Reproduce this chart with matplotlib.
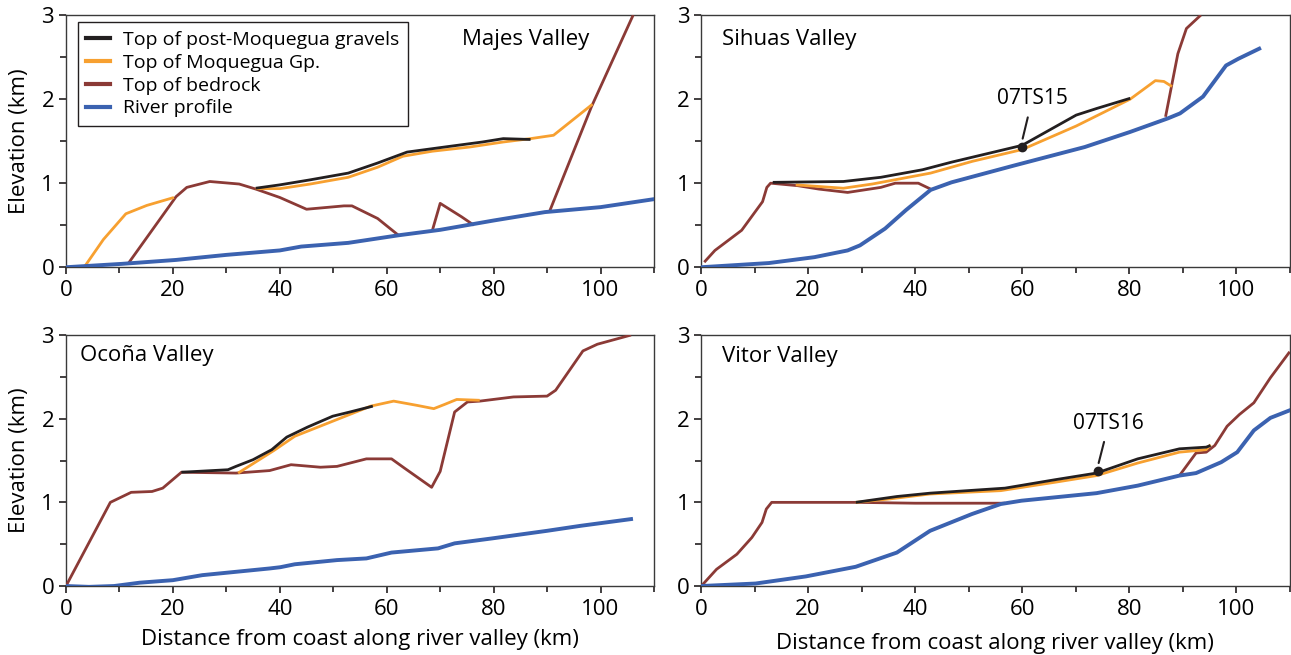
import numpy as np
import matplotlib
matplotlib.use("Agg")
import matplotlib.pyplot as plt
from matplotlib.ticker import MultipleLocator

plt.rcParams['font.family'] = ['Open Sans', 'DejaVu Sans']

BLACK = "#231f20"
ORANGE = "#f7a030"
BROWN = "#8b3a36"
BLUE = "#3b62b0"

# ---- Majes Valley ----
majes_river_x = [0, 10.4, 20.6, 30, 40, 44, 52.8, 62.2, 70, 80, 89.6, 100, 110]
majes_river_y = [0, 0.04, 0.087, 0.147, 0.2, 0.246, 0.29, 0.38, 0.445, 0.556, 0.656, 0.715, 0.81]
majes_moq1_x = [3.4, 7, 11.2, 15.1, 20.2]
majes_moq1_y = [0, 0.33, 0.636, 0.735, 0.83]
majes_moq2_x = [35.5, 40, 45.7, 52.8, 58.3, 63, 68.5, 75.5, 81.8, 86.9, 91.2, 98.5]
majes_moq2_y = [0.935, 0.935, 0.99, 1.07, 1.19, 1.32, 1.38, 1.43, 1.49, 1.53, 1.57, 1.94]
majes_grav_x = [35.5, 40, 45.7, 52.8, 58.3, 63.8, 70.8, 77.9, 81.8, 86.9]
majes_grav_y = [0.94, 0.98, 1.04, 1.12, 1.24, 1.37, 1.43, 1.49, 1.53, 1.52]
majes_bed1_x = [11.6, 20.6, 22.6, 26.9, 32.4, 35.5, 40, 45, 52, 53.5, 58.3, 62.2]
majes_bed1_y = [0.04, 0.84, 0.95, 1.02, 0.99, 0.93, 0.83, 0.69, 0.73, 0.73, 0.58, 0.38]
majes_bed2_x = [68.5, 70, 74, 76.3]
majes_bed2_y = [0.43, 0.76, 0.6, 0.5]
majes_bed3_x = [90.4, 98.3, 106.1]
majes_bed3_y = [0.655, 1.91, 3.0]

# ---- Sihuas Valley ----
sihuas_river_x = [0, 12.7, 21.2, 27.4, 29.7, 34.4, 38.3, 42.9, 46.8, 58.5, 71.7, 80.2, 87.2, 89.5, 93.8, 98.1, 100.4, 104.3]
sihuas_river_y = [0, 0.05, 0.12, 0.2, 0.26, 0.46, 0.68, 0.92, 1.01, 1.21, 1.43, 1.61, 1.77, 1.83, 2.03, 2.40, 2.48, 2.60]
sihuas_bed1_x = [0.6, 2.6, 7.6, 11.5, 12.3, 13, 18.1, 22, 27.4, 33.6, 36.3, 40.6, 42.9]
sihuas_bed1_y = [0.06, 0.2, 0.44, 0.78, 0.95, 1.0, 0.97, 0.93, 0.89, 0.95, 1.0, 1.0, 0.93]
sihuas_bed2_x = [86.8, 89.1, 90.7, 93.4]
sihuas_bed2_y = [1.79, 2.54, 2.84, 3.0]
sihuas_moq_x = [17.7, 26.6, 32, 42.9, 50.7, 60, 70.1, 80.2, 84.9, 86.5, 88]
sihuas_moq_y = [0.98, 0.94, 0.99, 1.12, 1.26, 1.40, 1.68, 2.0, 2.22, 2.21, 2.15]
sihuas_grav_x = [13.4, 26.6, 33.6, 41.4, 46.8, 60, 70.1, 74, 80.2]
sihuas_grav_y = [1.01, 1.02, 1.07, 1.16, 1.25, 1.45, 1.81, 1.89, 2.01]
sihuas_sample = (60, 1.43, "07TS15")

# ---- Ocoña Valley ----
ocona_river_x = [0, 4.3, 9, 13.8, 20, 25.5, 31.8, 38.1, 40.1, 42.8, 50.7, 56.2, 60.9, 69.6, 72.7, 79.8, 90, 96.3, 105.7]
ocona_river_y = [0, -0.01, 0.0, 0.04, 0.07, 0.13, 0.17, 0.21, 0.225, 0.26, 0.31, 0.33, 0.4, 0.45, 0.51, 0.57, 0.66, 0.72, 0.80]
ocona_bed_x = [0, 8.3, 12.2, 16.1, 18.1, 21.6, 31.8, 38.1, 42.1, 47.6, 50.7, 56.2, 60.9, 63.3, 68.4, 70, 72.7,
               75.1, 77.4, 83.7, 90, 91.6, 96.7, 99.4, 105.7]
ocona_bed_y = [0, 1.0, 1.12, 1.13, 1.17, 1.36, 1.35, 1.38, 1.45, 1.42, 1.43, 1.52, 1.52, 1.41, 1.18, 1.37, 2.08,
               2.2, 2.21, 2.26, 2.27, 2.34, 2.81, 2.89, 3.0]
ocona_moq_x = [32.2, 38.9, 42.8, 49.9, 57, 61.3, 65.6, 68.8, 70.8, 73.1, 77.4]
ocona_moq_y = [1.35, 1.62, 1.79, 1.97, 2.15, 2.21, 2.16, 2.12, 2.17, 2.23, 2.22]
ocona_grav_x = [21.6, 30.3, 31.8, 35, 38.5, 41.3, 45.2, 49.9, 53.1, 57.4]
ocona_grav_y = [1.36, 1.39, 1.43, 1.51, 1.63, 1.78, 1.9, 2.03, 2.08, 2.15]

# ---- Vitor Valley ----
vitor_river_x = [0, 10.2, 19.6, 28.9, 36.6, 42.8, 50.6, 56, 59.9, 73.9, 81.6, 89.4, 92.5, 97.2, 100.2, 103.3, 106.4, 110]
vitor_river_y = [0, 0.03, 0.115, 0.23, 0.40, 0.66, 0.86, 0.98, 1.02, 1.11, 1.2, 1.32, 1.35, 1.48, 1.6, 1.86, 2.01, 2.1]
vitor_bed1_x = [0.2, 2.9, 6.7, 9.5, 11.4, 12.2, 13.2, 25.8, 28.9, 40, 56.8]
vitor_bed1_y = [0.01, 0.2, 0.38, 0.58, 0.76, 0.92, 1.0, 1.0, 1.0, 0.99, 0.99]
vitor_bed2_x = [89.4, 92.5, 94.4, 96, 98.3, 100.6, 103.3, 106.4, 110]
vitor_bed2_y = [1.32, 1.59, 1.6, 1.68, 1.91, 2.05, 2.19, 2.49, 2.8]
vitor_moq_x = [28.9, 35.1, 42.8, 56, 66.1, 73.9, 81.6, 89.4, 94.4, 95.2]
vitor_moq_y = [1.0, 1.04, 1.1, 1.14, 1.24, 1.32, 1.47, 1.60, 1.63, 1.69]
vitor_grav_x = [28.9, 36.6, 42.8, 56.8, 66.1, 73.9, 81.6, 89.4, 94.4, 95.2]
vitor_grav_y = [1.0, 1.07, 1.11, 1.17, 1.27, 1.35, 1.52, 1.64, 1.66, 1.68]
vitor_sample = (74.2, 1.37, "07TS16")

LW = 2.0
LW_RIVER = 2.8

fig = plt.figure(figsize=(12.91, 6.55), dpi=100)
ax1 = fig.add_axes([0.0511, 0.592, 0.4555, 0.385])
ax2 = fig.add_axes([0.5430, 0.592, 0.4560, 0.385])
ax3 = fig.add_axes([0.0511, 0.1053, 0.4555, 0.3832])
ax4 = fig.add_axes([0.5430, 0.1053, 0.4560, 0.3832])


def style(ax):
    ax.set_xlim(0, 110)
    ax.set_ylim(0, 3)
    ax.xaxis.set_major_locator(MultipleLocator(20))
    ax.xaxis.set_minor_locator(MultipleLocator(10))
    ax.yaxis.set_major_locator(MultipleLocator(1))
    ax.yaxis.set_minor_locator(MultipleLocator(0.5))
    ax.tick_params(which="both", direction="out", labelsize=16, color="#231f20")
    ax.tick_params(which="major", length=5, width=1.2)
    ax.tick_params(which="minor", length=4, width=1.2)
    ax.tick_params(axis="x", pad=4)
    for s in ax.spines.values():
        s.set_color("#3a3a3a")
        s.set_linewidth(1.0)


def draw(ax, river, beds, moqs, gravs):
    for x, y in beds:
        ax.plot(x, y, color=BROWN, lw=LW, solid_capstyle="butt", solid_joinstyle="round", zorder=3)
    for x, y in moqs:
        ax.plot(x, y, color=ORANGE, lw=LW, solid_capstyle="butt", solid_joinstyle="round", zorder=4)
    for x, y in gravs:
        ax.plot(x, y, color=BLACK, lw=LW, solid_capstyle="butt", solid_joinstyle="round", zorder=5)
    ax.plot(river[0], river[1], color=BLUE, lw=LW_RIVER, solid_joinstyle="round", zorder=6)


def sample(ax, s, dx, dy):
    x, y, name = s
    ax.plot([x], [y], "o", color=BLACK, ms=6, zorder=7)
    ax.annotate(name, xy=(x + 0.1, y + 0.1), xytext=(x + dx, y + dy),
                ha="center", va="bottom", fontsize=15,
                arrowprops=dict(arrowstyle="-", color=BLACK, lw=1.5, shrinkA=4, shrinkB=0))


for ax in (ax1, ax2, ax3, ax4):
    style(ax)

draw(ax1, (majes_river_x, majes_river_y),
     [(majes_bed1_x, majes_bed1_y), (majes_bed2_x, majes_bed2_y), (majes_bed3_x, majes_bed3_y)],
     [(majes_moq1_x, majes_moq1_y), (majes_moq2_x, majes_moq2_y)],
     [(majes_grav_x, majes_grav_y)])
draw(ax2, (sihuas_river_x, sihuas_river_y),
     [(sihuas_bed1_x, sihuas_bed1_y), (sihuas_bed2_x, sihuas_bed2_y)],
     [(sihuas_moq_x, sihuas_moq_y)],
     [(sihuas_grav_x, sihuas_grav_y)])
draw(ax3, (ocona_river_x, ocona_river_y),
     [(ocona_bed_x, ocona_bed_y)],
     [(ocona_moq_x, ocona_moq_y)],
     [(ocona_grav_x, ocona_grav_y)])
draw(ax4, (vitor_river_x, vitor_river_y),
     [(vitor_bed1_x, vitor_bed1_y), (vitor_bed2_x, vitor_bed2_y)],
     [(vitor_moq_x, vitor_moq_y)],
     [(vitor_grav_x, vitor_grav_y)])

sample(ax2, sihuas_sample, 1.9, 0.45)
sample(ax4, vitor_sample, 2.0, 0.45)

# legend (only in the Majes panel)
handles = [plt.Line2D([], [], color=c, lw=3) for c in (BLACK, ORANGE, BROWN, BLUE)]
labels = ["Top of post-Moquegua gravels", "Top of Moquegua Gp.", "Top of bedrock", "River profile"]
leg = ax1.legend(handles, labels, loc="upper left", bbox_to_anchor=(0.02, 0.972), fontsize=14,
                 handlelength=1.2, handletextpad=0.7, labelspacing=0.25, borderpad=0.45,
                 fancybox=False, framealpha=1, edgecolor="#231f20", borderaxespad=0)
leg.get_frame().set_linewidth(1.0)

ax1.text(0.673, 0.905, "Majes Valley", transform=ax1.transAxes, fontsize=16, va="center", ha="left")
ax2.text(0.036, 0.905, "Sihuas Valley", transform=ax2.transAxes, fontsize=16, va="center", ha="left")
ax3.text(0.024, 0.92, "Ocoña Valley", transform=ax3.transAxes, fontsize=16, va="center", ha="left")
ax4.text(0.036, 0.916, "Vitor Valley", transform=ax4.transAxes, fontsize=16, va="center", ha="left")

ax1.set_ylabel("Elevation (km)", fontsize=16, labelpad=8)
ax3.set_ylabel("Elevation (km)", fontsize=16, labelpad=8)
ax3.set_xlabel("Distance from coast along river valley (km)", fontsize=16, labelpad=7)
ax4.set_xlabel("Distance from coast along river valley (km)", fontsize=16, labelpad=10)

fig.savefig("out.png", dpi=100)
